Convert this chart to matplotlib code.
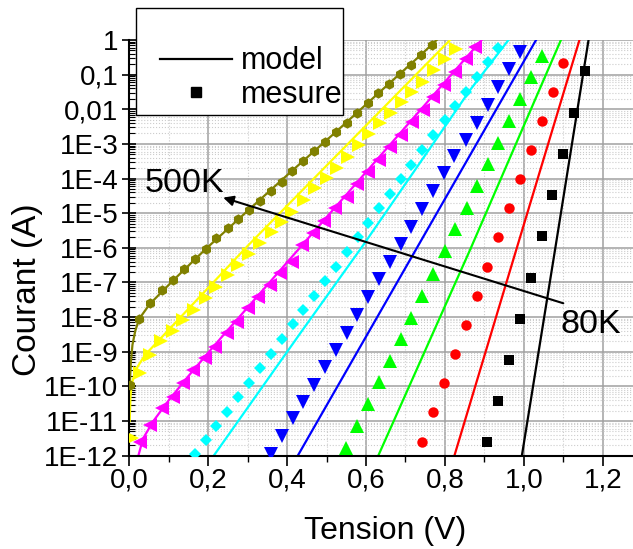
import numpy as np
import matplotlib
matplotlib.use("Agg")
import matplotlib.pyplot as plt
from matplotlib.lines import Line2D
from matplotlib.patches import Rectangle
from matplotlib.ticker import MultipleLocator, LogLocator, NullFormatter, FuncFormatter

plt.rcParams["font.family"] = ["Liberation Sans", "DejaVu Sans"]

v_80 = [0.907, 0.935, 0.962, 0.990, 1.018, 1.045, 1.072, 1.100, 1.127, 1.156]
log_i_80 = [-11.61, -10.42, -9.25, -8.05, -6.86, -5.67, -4.47, -3.28, -2.11, -0.90]

v_red = [0.743, 0.770, 0.798, 0.826, 0.854, 0.881, 0.907, 0.935, 0.962, 0.990,
         1.017, 1.045, 1.073, 1.099]
log_i_red = [-11.60, -10.75, -9.90, -9.06, -8.23, -7.39, -6.56, -5.70, -4.86, -4.02,
             -3.18, -2.35, -1.50, -0.66]

v_green = [0.549, 0.577, 0.605, 0.633, 0.661, 0.688, 0.715, 0.743, 0.771, 0.800,
           0.826, 0.855, 0.881, 0.908, 0.935, 0.962, 0.990, 1.018, 1.047]
log_i_green = [-11.77, -11.15, -10.52, -9.88, -9.27, -8.64, -8.02, -7.38, -6.76, -6.09,
               -5.46, -4.85, -4.22, -3.59, -2.96, -2.34, -1.70, -1.08, -0.45]

v_blue = [0.359, 0.386, 0.414, 0.441, 0.468, 0.496, 0.523, 0.551, 0.578, 0.606,
          0.634, 0.661, 0.688, 0.715, 0.742, 0.769, 0.797, 0.824, 0.853, 0.881,
          0.908, 0.935, 0.962, 0.990]
log_i_blue = [-11.94, -11.44, -10.92, -10.46, -9.95, -9.45, -8.94, -8.45, -7.93, -7.43,
              -6.91, -6.42, -5.90, -5.40, -4.88, -4.36, -3.83, -3.34, -2.90, -2.39,
              -1.88, -1.37, -0.85, -0.36]

v_cyan = [0.167, 0.194, 0.221, 0.248, 0.276, 0.303, 0.331, 0.358, 0.386, 0.414,
          0.441, 0.468, 0.496, 0.523, 0.551, 0.579, 0.606, 0.633, 0.661, 0.689,
          0.715, 0.743, 0.771, 0.799, 0.826, 0.853, 0.881, 0.908, 0.935]
log_i_cyan = [-11.96, -11.56, -11.14, -10.73, -10.31, -9.89, -9.48, -9.06, -8.63, -8.21,
              -7.79, -7.38, -6.95, -6.54, -6.11, -5.68, -5.27, -4.86, -4.45, -4.02,
              -3.61, -3.18, -2.74, -2.31, -1.91, -1.50, -1.08, -0.63, -0.24]

v_magenta = [0.027, 0.053, 0.082, 0.112, 0.137, 0.162, 0.192, 0.217, 0.247, 0.272,
             0.302, 0.327, 0.357, 0.382, 0.412, 0.437, 0.466, 0.494, 0.521, 0.551,
             0.578, 0.606, 0.634, 0.661, 0.689, 0.716, 0.744, 0.771, 0.798, 0.826,
             0.853, 0.876]
log_i_magenta = [-11.60, -11.11, -10.63, -10.30, -9.91, -9.53, -9.19, -8.85, -8.47, -8.13,
                 -7.75, -7.41, -7.07, -6.74, -6.40, -5.92, -5.58, -5.22, -4.86, -4.52,
                 -4.16, -3.80, -3.46, -3.10, -2.74, -2.38, -2.02, -1.65, -1.30, -0.92,
                 -0.55, -0.19]

v_yellow = [0.007, 0.027, 0.052, 0.080, 0.110, 0.136, 0.165, 0.194, 0.221, 0.249,
            0.276, 0.303, 0.331, 0.361, 0.386, 0.412, 0.443, 0.471, 0.500, 0.526,
            0.554, 0.581, 0.608, 0.636, 0.663, 0.690, 0.717, 0.745, 0.773, 0.800, 0.827]
log_i_yellow = [-11.50, -9.62, -9.10, -8.70, -8.40, -8.09, -7.78, -7.44, -7.12, -6.78,
                -6.50, -6.19, -5.87, -5.55, -5.24, -4.96, -4.62, -4.28, -3.99, -3.69,
                -3.37, -3.03, -2.72, -2.40, -2.12, -1.78, -1.49, -1.20, -0.87, -0.55, -0.26]

v_olive = [0.002, 0.025, 0.052, 0.082, 0.112, 0.139, 0.167, 0.194, 0.221, 0.249,
           0.276, 0.303, 0.331, 0.359, 0.386, 0.412, 0.441, 0.469, 0.496, 0.523,
           0.551, 0.578, 0.604, 0.631, 0.659, 0.686, 0.714, 0.739, 0.767]
log_i_olive = [-9.96, -8.05, -7.60, -7.22, -6.93, -6.61, -6.32, -6.03, -5.71, -5.44,
               -5.18, -4.90, -4.64, -4.36, -4.09, -3.78, -3.49, -3.20, -2.95, -2.66,
               -2.40, -2.12, -1.83, -1.54, -1.28, -0.99, -0.72, -0.43, -0.14]

# model curves
mv_80, mlog_80 = [0.995, 1.081, 1.164], [-12.0, -5.92, 0.0]
mv_red, mlog_red = [0.824, 0.982, 1.141], [-12.0, -6.01, 0.0]
mv_green, mlog_green = [0.631, 0.864, 1.094], [-12.0, -6.05, 0.0]
mv_blue, mlog_blue = [0.427, 0.733, 1.031], [-12.0, -5.92, 0.0]
mv_cyan, mlog_cyan = [0.214, 0.433, 0.593, 0.864, 0.961], [-12.0, -8.47, -5.92, -1.44, 0.0]
mv_magenta = [0.023, 0.035, 0.061, 0.100, 0.150, 0.217, 0.893]
mlog_magenta = [-12.0, -11.5, -11.0, -10.4, -9.7, -8.8, 0.0]
mv_yellow = [0.001, 0.003, 0.006, 0.010, 0.020, 0.040, 0.302, 0.813]
mlog_yellow = [-11.0, -10.3, -9.95, -9.77, -9.45, -9.09, -5.92, 0.0]
mv_olive = [0.001, 0.004, 0.008, 0.015, 0.025, 0.052, 0.112, 0.194, 0.303, 0.412,
            0.523, 0.631, 0.739, 0.779]
mlog_olive = [-10.0, -9.3, -8.8, -8.4, -8.05, -7.62, -6.93, -6.03, -4.90, -3.78,
              -2.66, -1.54, -0.43, 0.0]

series = [
    (v_80, log_i_80, mv_80, mlog_80, "black", "s", 7),
    (v_red, log_i_red, mv_red, mlog_red, "#ff0000", "o", 7.5),
    (v_green, log_i_green, mv_green, mlog_green, "#00ff00", "^", 9.5),
    (v_blue, log_i_blue, mv_blue, mlog_blue, "#0000ff", "v", 9.5),
    (v_cyan, log_i_cyan, mv_cyan, mlog_cyan, "#00ffff", "D", 5.8),
    (v_magenta, log_i_magenta, mv_magenta, mlog_magenta, "#ff00ff", "<", 9.5),
    (v_yellow, log_i_yellow, mv_yellow, mlog_yellow, "#ffff00", ">", 9.5),
    (v_olive, log_i_olive, mv_olive, mlog_olive, "#808000", "h", 7.5),
]

fig = plt.figure(figsize=(6.33, 5.49), dpi=100)
ax = fig.add_axes([129.3 / 633, 1 - 455.7 / 549, (642.2 - 129.3) / 633, 415.7 / 549])

for v, li, mv, ml, col, mk, ms in series:
    ax.plot(mv, 10.0 ** np.array(ml), color=col, lw=1.6, zorder=2)
    ax.plot(v, 10.0 ** np.array(li), ls="none", marker=mk, ms=ms, color=col,
            markeredgewidth=0, zorder=3)

ax.set_yscale("log")
ax.set_xlim(0, 1.3)
ax.set_ylim(1e-12, 1)

ax.xaxis.set_major_locator(MultipleLocator(0.2))
ax.xaxis.set_minor_locator(MultipleLocator(0.1))
ax.xaxis.set_major_formatter(FuncFormatter(lambda v, p: f"{v:.1f}".replace(".", ",")))


def y_label(val, pos):
    e = int(round(np.log10(val)))
    if e == 0:
        return "1"
    if e == -1:
        return "0,1"
    if e == -2:
        return "0,01"
    return f"1E{e}"


ax.yaxis.set_major_locator(LogLocator(base=10, numticks=20))
ax.yaxis.set_minor_locator(LogLocator(base=10, subs=np.arange(2, 10), numticks=20))
ax.yaxis.set_major_formatter(FuncFormatter(y_label))
ax.yaxis.set_minor_formatter(NullFormatter())

ax.tick_params(axis="x", which="major", direction="out", length=7, width=1.2,
               labelsize=20, pad=1.5)
ax.tick_params(axis="x", which="minor", direction="out", length=4, width=1)
ax.tick_params(axis="y", which="major", direction="inout", length=10, width=1.2,
               labelsize=20, pad=3)
ax.tick_params(axis="y", which="minor", direction="in", length=4, width=0.8)

for s in ["top", "right"]:
    ax.spines[s].set_visible(False)
for s in ["left", "bottom"]:
    ax.spines[s].set_linewidth(1.5)

ax.set_axisbelow(True)
ax.grid(which="major", color="#a0a0a0", lw=1.1, ls="-")
ax.grid(which="minor", color="#cccccc", lw=0.8, ls=":")

# temperature arrow
ax.annotate("", xy=(0.238, 10 ** -4.55), xytext=(1.100, 10 ** -7.60),
            arrowprops=dict(arrowstyle="-|>", color="black", lw=1.5,
                            mutation_scale=15, shrinkA=0, shrinkB=0), zorder=4)
ax.text(0.040, 10 ** -4.38, "500K", fontsize=24.5, ha="left", va="baseline", zorder=4)
ax.text(1.093, 10 ** -8.47, "80K", fontsize=24.5, ha="left", va="baseline", zorder=4)

fig.text(28 / 633, 1 - 290 / 549, "Courant (A)", rotation=90, fontsize=24,
         ha="center", va="center")
fig.text(385.6 / 633, 1 - 530.5 / 549, "Tension (V)", fontsize=23,
         ha="center", va="center")

# legend box
frame = Rectangle((136 / 633, 1 - 115 / 549), 207 / 633, 107 / 549,
                  transform=fig.transFigure, facecolor="white", edgecolor="black",
                  lw=1.0, zorder=5)
fig.patches.append(frame)
handles = [Line2D([], [], color="black", lw=1.6),
           Line2D([], [], ls="none", marker="s", ms=7, color="black")]
leg = fig.legend(handles, ["model", "mesure"], loc="center",
                 bbox_to_anchor=(251 / 633, 1 - 78.3 / 549), frameon=False,
                 fontsize=22, handlelength=2.35, handletextpad=0.3,
                 labelspacing=0.12, borderpad=0, numpoints=1)
leg.set_zorder(6)

fig.savefig("out.png", dpi=100)
